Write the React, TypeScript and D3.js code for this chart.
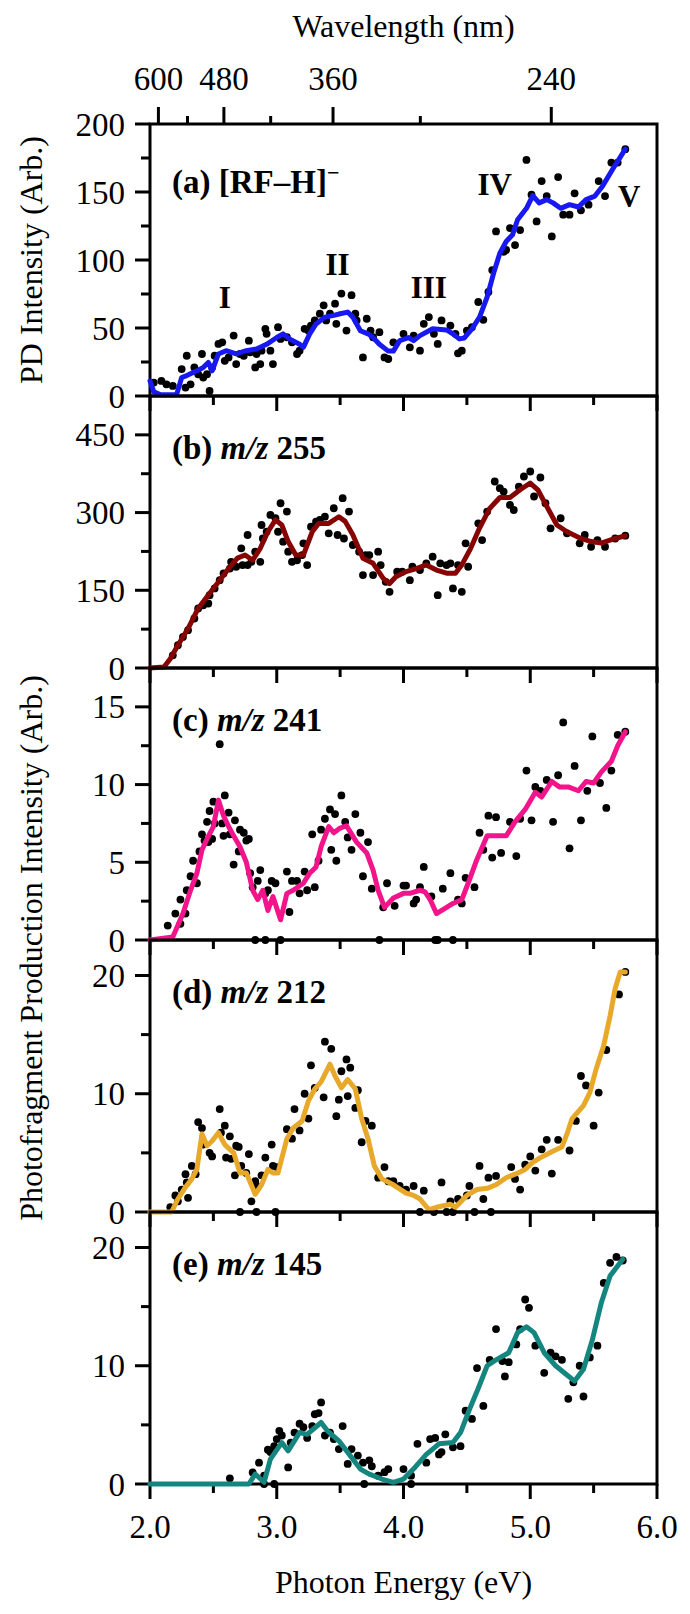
import * as d3 from "d3"

// photon energy axis (eV) and the wavelength axis on top (nm)
const energyMajor = [2, 3, 4, 5, 6]
const energyMinor = [2.5, 3.5, 4.5, 5.5]
const wavelengthMajor = [600, 480, 360, 240]
const wavelengthMinor = [540, 420, 300]

type Pt = [number, number]

// (a) [RF-H]- total photodepletion
const lineA: Pt[] = [
  [2.0, 11], [2.03, 3], [2.08, 1], [2.21, 1], [2.25, 13.6], [2.29, 15], [2.37, 18.5], [2.42, 21],
  [2.46, 24.7], [2.49, 18.5], [2.54, 30.9], [2.6, 33.3], [2.68, 30.9], [2.76, 33.3], [2.84, 34.6],
  [2.92, 38], [3.0, 43], [3.05, 45.7], [3.1, 42], [3.18, 38], [3.21, 35.8], [3.26, 45.7], [3.31, 53],
  [3.38, 58], [3.45, 59.3], [3.5, 60.5], [3.56, 61.7], [3.6, 58], [3.66, 48], [3.72, 45.7], [3.76, 43],
  [3.81, 38], [3.88, 33], [3.92, 33], [3.97, 40.7], [4.04, 43], [4.08, 40.7], [4.13, 44.4], [4.23, 49.4],
  [4.34, 48.6], [4.39, 45.7], [4.44, 42], [4.48, 42.7], [4.54, 49.4], [4.6, 58], [4.66, 72.8], [4.71, 90],
  [4.76, 105], [4.81, 113.6], [4.86, 118.5], [4.9, 129.6], [4.97, 138], [5.02, 147.4], [5.07, 142],
  [5.13, 144.4], [5.18, 142], [5.24, 138], [5.31, 140.7], [5.38, 139], [5.44, 144.4], [5.51, 147],
  [5.57, 154.3], [5.65, 166.7], [5.75, 181.5],
]
const dotsA: Pt[] = [
  [2.03, 9.9], [2.09, 11.1], [2.13, 8.6], [2.18, 7.4], [2.25, 19.8], [2.28, 6.2], [2.29, 29.6], [2.32, 8.6],
  [2.35, 21], [2.38, 16], [2.41, 30.9], [2.42, 13.6], [2.45, 16], [2.47, 3.7], [2.49, 21], [2.51, 29.6],
  [2.54, 38.3], [2.57, 39.5], [2.59, 25.9], [2.62, 28.4], [2.66, 44.4], [2.68, 23.5], [2.71, 30.9],
  [2.74, 29.6], [2.78, 40.7], [2.79, 32.1], [2.83, 21], [2.84, 30.9], [2.87, 23.5], [2.88, 33.3],
  [2.91, 49.4], [2.92, 45.7], [2.95, 33.3], [2.97, 23.5], [3.01, 50.6], [3.03, 42], [3.08, 43.2],
  [3.12, 39.5], [3.16, 30.9], [3.18, 33.3], [3.22, 49.4], [3.25, 48.1], [3.27, 51.8], [3.3, 55.6],
  [3.34, 60.5], [3.37, 66.7], [3.39, 55.6], [3.42, 60.5], [3.46, 67.9], [3.47, 53.1], [3.51, 75.3],
  [3.55, 48.1], [3.59, 74.1], [3.62, 60.5], [3.63, 55.6], [3.68, 28.4], [3.71, 56.8], [3.74, 48.1],
  [3.76, 43.2], [3.81, 46.9], [3.85, 28.4], [3.88, 27.2], [3.92, 39.5], [4.0, 45.7], [4.05, 35.8],
  [4.08, 44.4], [4.13, 33.3], [4.16, 53.1], [4.2, 58], [4.24, 45.7], [4.27, 38.3], [4.3, 55.6],
  [4.37, 51.8], [4.41, 45.7], [4.43, 31.4], [4.46, 33.3], [4.5, 48.1], [4.54, 50.6], [4.59, 69.1],
  [4.63, 56], [4.67, 76.5], [4.7, 92.6], [4.73, 121], [4.79, 106], [4.81, 107.4], [4.84, 123.5],
  [4.88, 111], [4.92, 122], [4.97, 173.6], [5.01, 148], [5.05, 128.4], [5.09, 158], [5.13, 147],
  [5.17, 117.3], [5.22, 161], [5.26, 133.3], [5.31, 133.3], [5.35, 149], [5.4, 136.5], [5.46, 140.7],
  [5.54, 158], [5.59, 147], [5.64, 171.6], [5.69, 171.6], [5.75, 181.5],
]
const bandsA = [
  {label: "I", e: 2.59, v: 65},
  {label: "II", e: 3.48, v: 89},
  {label: "III", e: 4.2, v: 72},
  {label: "IV", e: 4.72, v: 148},
  {label: "V", e: 5.78, v: 139},
]

// (b) m/z 255
const lineB: Pt[] = [
  [2.0, 0], [2.11, 2], [2.16, 18], [2.22, 44], [2.3, 76], [2.38, 115], [2.46, 141], [2.54, 166],
  [2.62, 192], [2.69, 212], [2.75, 218], [2.81, 208], [2.87, 231], [2.93, 263], [2.99, 286], [3.04, 276],
  [3.09, 244], [3.15, 218], [3.21, 218], [3.28, 263], [3.33, 279], [3.41, 279], [3.49, 292], [3.54, 283],
  [3.6, 257], [3.68, 212], [3.76, 202], [3.84, 173], [3.89, 163], [3.94, 176], [4.02, 186], [4.1, 192],
  [4.18, 199], [4.26, 189], [4.34, 183], [4.41, 183], [4.46, 199], [4.53, 231], [4.6, 270], [4.68, 308],
  [4.76, 329], [4.84, 329], [4.92, 344], [5.0, 357], [5.06, 344], [5.11, 321], [5.21, 276], [5.29, 263],
  [5.4, 250], [5.48, 244], [5.56, 241], [5.67, 250], [5.75, 255],
]
const dotsB: Pt[] = [
  [2.18, 24.5], [2.22, 43.9], [2.26, 60], [2.3, 73], [2.35, 95.5], [2.38, 115], [2.42, 121], [2.46, 124.5],
  [2.47, 140.6], [2.51, 153.5], [2.55, 169.6], [2.58, 182.5], [2.63, 192], [2.64, 205], [2.68, 195.4],
  [2.72, 231], [2.73, 198.7], [2.77, 198.7], [2.77, 256.7], [2.8, 205], [2.83, 224.5], [2.87, 205],
  [2.88, 276], [2.89, 250], [2.92, 263], [2.95, 295.4], [2.99, 289], [3.01, 263], [3.03, 318],
  [3.05, 243.8], [3.08, 302], [3.09, 224.5], [3.12, 205], [3.16, 208], [3.2, 218], [3.21, 240.6],
  [3.24, 198.7], [3.27, 272.8], [3.31, 282.5], [3.34, 285.7], [3.38, 292], [3.41, 260], [3.45, 308.3],
  [3.48, 256.7], [3.52, 327.7], [3.53, 250], [3.57, 302], [3.6, 237.4], [3.65, 224.5], [3.68, 179.3],
  [3.7, 218], [3.73, 218], [3.76, 179.3], [3.8, 224.5], [3.82, 198.7], [3.86, 166.4], [3.89, 147],
  [3.95, 185.8], [3.99, 185.8], [4.05, 169.6], [4.07, 195.4], [4.13, 189], [4.18, 202], [4.23, 214.8],
  [4.27, 140.6], [4.29, 202], [4.34, 198.7], [4.37, 202], [4.39, 153.5], [4.43, 198.7], [4.46, 147],
  [4.49, 240.6], [4.51, 195.4], [4.59, 279.3], [4.62, 247], [4.66, 302], [4.72, 360], [4.76, 347],
  [4.79, 340.6], [4.84, 314.8], [4.87, 305], [4.91, 350], [4.95, 369.6], [5.0, 379.3], [5.03, 331],
  [5.08, 367.7], [5.12, 318], [5.16, 269.6], [5.24, 289], [5.29, 260], [5.39, 240.6], [5.43, 256.7],
  [5.48, 234], [5.53, 247], [5.59, 234], [5.67, 250], [5.75, 255.4],
]

// (c) m/z 241
const lineC: Pt[] = [
  [2.0, 0], [2.18, 0.2], [2.26, 1.7], [2.32, 3.2], [2.37, 4.3], [2.41, 5.8], [2.45, 6.5], [2.5, 7.3],
  [2.54, 9.0], [2.58, 8.0], [2.62, 7.3], [2.66, 6.7], [2.71, 6.0], [2.76, 5.0], [2.81, 3.2], [2.85, 2.6],
  [2.89, 3.2], [2.93, 1.9], [2.97, 2.8], [3.03, 1.3], [3.08, 3.0], [3.13, 3.2], [3.21, 3.65], [3.26, 4.3],
  [3.31, 4.7], [3.35, 6.0], [3.41, 7.3], [3.45, 6.9], [3.5, 7.2], [3.55, 7.35], [3.63, 6.3], [3.71, 5.6],
  [3.76, 4.5], [3.8, 3.2], [3.85, 2.1], [3.92, 2.7], [4.0, 3.0], [4.05, 3.0], [4.13, 3.2], [4.17, 3.1],
  [4.21, 2.6], [4.26, 1.7], [4.34, 2.1], [4.39, 2.35], [4.46, 2.6], [4.51, 3.65], [4.58, 5.2], [4.66, 6.7],
  [4.73, 6.7], [4.81, 6.7], [4.88, 7.6], [4.96, 8.4], [5.04, 9.5], [5.09, 9.2], [5.17, 10.2], [5.23, 9.85],
  [5.3, 9.85], [5.38, 9.6], [5.44, 10.2], [5.5, 10.1], [5.56, 10.8], [5.64, 11.5], [5.69, 12.5], [5.75, 13.4],
]
const dotsC: Pt[] = [
  [2.14, 0.93], [2.2, 1.7], [2.24, 1.04], [2.24, 2.6], [2.28, 1.7], [2.29, 3.2], [2.32, 4.1], [2.34, 5.1],
  [2.37, 3.65], [2.39, 5.7], [2.41, 6.8], [2.43, 6.4], [2.45, 7.6], [2.46, 6.3], [2.47, 8.3], [2.49, 6.5],
  [2.5, 8.9], [2.51, 7.5], [2.55, 12.6], [2.57, 7.5], [2.58, 6.7], [2.59, 9.3], [2.62, 8.2], [2.63, 6.8],
  [2.66, 4.85], [2.67, 7.7], [2.7, 5.7], [2.71, 7.1], [2.74, 6.9], [2.76, 6.4], [2.78, 6.5], [2.79, 4.3],
  [2.81, 3.4], [2.83, 0], [2.85, 3.8], [2.87, 4.5], [2.91, 3.0], [2.91, 0], [2.93, 3.2], [2.96, 3.8],
  [2.99, 3.65], [3.03, 0], [3.08, 4.4], [3.1, 1.8], [3.12, 3.8], [3.16, 3.8], [3.18, 3.0], [3.22, 4.4],
  [3.24, 3.2], [3.28, 6.8], [3.3, 3.4], [3.33, 5.1], [3.35, 7.1], [3.38, 7.8], [3.42, 8.4], [3.43, 5.8],
  [3.46, 8.1], [3.47, 5.1], [3.51, 9.3], [3.54, 7.6], [3.56, 6.6], [3.59, 5.8], [3.62, 8.1], [3.66, 6.9],
  [3.68, 4.1], [3.72, 6.3], [3.75, 3.3], [3.81, 0], [3.84, 2.1], [3.87, 3.65], [3.93, 2.2], [4.0, 3.5],
  [4.02, 3.5], [4.08, 2.35], [4.1, 2.6], [4.13, 3.4], [4.16, 4.7], [4.22, 2.8], [4.25, 0], [4.27, 0],
  [4.31, 3.3], [4.37, 4.3], [4.39, 0], [4.43, 2.6], [4.46, 2.35], [4.49, 4.0], [4.56, 3.4], [4.6, 6.9],
  [4.63, 5.8], [4.67, 8.0], [4.7, 5.3], [4.73, 7.9], [4.77, 5.6], [4.84, 7.6], [4.89, 5.4], [4.92, 7.8],
  [4.97, 10.9], [5.01, 7.7], [5.04, 9.85], [5.08, 9.6], [5.13, 10.3], [5.18, 7.6], [5.22, 10.6],
  [5.26, 14.0], [5.31, 5.9], [5.35, 11.2], [5.4, 7.7], [5.45, 9.6], [5.49, 13.1], [5.55, 10.1],
  [5.6, 8.5], [5.64, 10.9], [5.69, 13.2], [5.75, 13.4],
]

// (d) m/z 212
const lineD: Pt[] = [
  [2.0, 0], [2.17, 0], [2.22, 1.1], [2.28, 2.1], [2.33, 2.8], [2.37, 3.6], [2.41, 6.6], [2.45, 5.6],
  [2.49, 6.0], [2.54, 6.7], [2.59, 5.7], [2.66, 5.0], [2.71, 3.3], [2.76, 3.3], [2.83, 1.5], [2.88, 2.3],
  [2.93, 3.6], [2.97, 3.3], [3.01, 3.3], [3.08, 6.2], [3.13, 7.1], [3.2, 7.7], [3.25, 9.4], [3.3, 10.4],
  [3.35, 11.0], [3.42, 12.5], [3.46, 11.5], [3.51, 10.5], [3.56, 11.2], [3.62, 10.4], [3.67, 7.9],
  [3.72, 6.2], [3.77, 3.9], [3.83, 2.8], [3.92, 2.3], [4.02, 1.6], [4.08, 1.4], [4.13, 1.1], [4.2, 0.2],
  [4.26, 0.4], [4.37, 0.65], [4.41, 0.4], [4.5, 1.4], [4.58, 1.9], [4.66, 2.0], [4.73, 2.3], [4.81, 2.9],
  [4.88, 3.2], [4.96, 3.6], [5.02, 4.2], [5.08, 4.6], [5.17, 5.1], [5.25, 5.5], [5.29, 6.6], [5.33, 7.9],
  [5.42, 9.0], [5.47, 10.1], [5.52, 12.1], [5.58, 14.1], [5.63, 16.6], [5.67, 18.9], [5.71, 20.3],
  [5.75, 20.3],
]
const dotsD: Pt[] = [
  [2.16, 0.4], [2.2, 1.4], [2.22, 0.9], [2.25, 1.9], [2.28, 3.2], [2.29, 2.5], [2.3, 1.2], [2.33, 3.9],
  [2.36, 3.2], [2.38, 7.6], [2.41, 7.1], [2.42, 5.7], [2.47, 5.0], [2.49, 4.7], [2.55, 8.7], [2.56, 6.7],
  [2.59, 7.3], [2.6, 4.6], [2.63, 6.4], [2.64, 4.5], [2.67, 3.1], [2.68, 5.6], [2.7, 5.5], [2.71, 0],
  [2.72, 3.9], [2.76, 3.3], [2.78, 4.9], [2.8, 0.9], [2.83, 2.6], [2.84, 2.2], [2.84, 0], [2.88, 3.1],
  [2.91, 4.6], [2.96, 5.7], [2.97, 3.9], [2.99, 0], [3.0, 3.8], [3.08, 7.0], [3.12, 6.2], [3.14, 8.7],
  [3.18, 6.9], [3.22, 10.0], [3.25, 7.9], [3.27, 12.4], [3.3, 10.5], [3.37, 9.7], [3.38, 14.4],
  [3.43, 13.8], [3.47, 8.1], [3.49, 9.5], [3.51, 11.9], [3.55, 12.9], [3.56, 9.8], [3.58, 12.2],
  [3.62, 8.8], [3.64, 10.3], [3.67, 5.9], [3.7, 7.7], [3.75, 7.3], [3.8, 2.9], [3.85, 3.8], [3.88, 2.6],
  [3.92, 2.6], [3.97, 2.2], [4.02, 1.9], [4.08, 2.2], [4.13, 0], [4.16, 1.8], [4.24, 0], [4.3, 2.5],
  [4.34, 0], [4.37, 0.9], [4.39, 0], [4.43, 1.1], [4.5, 1.4], [4.52, 2.2], [4.56, 0], [4.6, 3.9],
  [4.63, 1.1], [4.67, 2.9], [4.69, 0], [4.73, 3.05], [4.85, 3.8], [4.88, 2.8], [4.92, 1.9], [4.96, 4.0],
  [5.0, 4.7], [5.04, 3.5], [5.09, 5.3], [5.13, 6.1], [5.17, 3.25], [5.22, 6.1], [5.31, 5.2], [5.36, 7.7],
  [5.4, 11.5], [5.44, 10.7], [5.5, 7.3], [5.54, 10.1], [5.6, 13.7], [5.7, 18.4], [5.75, 20.3],
]

// (e) m/z 145
const lineE: Pt[] = [
  [2.0, 0], [2.78, 0], [2.83, 0.84], [2.9, 0.15], [2.95, 2.1], [3.04, 3.5], [3.09, 2.8], [3.18, 4.35],
  [3.24, 4.2], [3.35, 5.2], [3.4, 4.5], [3.49, 3.65], [3.59, 2.25], [3.66, 1.26], [3.73, 0.84],
  [3.83, 0.42], [3.92, 0.14], [4.0, 0.42], [4.09, 1.4], [4.18, 2.5], [4.28, 3.4], [4.39, 3.5],
  [4.45, 4.35], [4.52, 6.3], [4.59, 8.1], [4.66, 10.0], [4.73, 10.5], [4.83, 11.1], [4.9, 12.8],
  [4.97, 13.3], [5.03, 12.8], [5.11, 11.1], [5.2, 10.0], [5.28, 9.3], [5.35, 8.7], [5.42, 9.7],
  [5.49, 12.2], [5.56, 15.3], [5.63, 17.6], [5.73, 19.0],
]
const dotsE: Pt[] = [
  [2.63, 0.48], [2.81, 0.98], [2.86, 1.8], [2.9, 0.7], [2.9, 0], [2.93, 2.9], [2.95, 2.7], [2.98, 3.2],
  [2.98, 0], [3.0, 3.8], [3.02, 4.5], [3.04, 4.1], [3.09, 1.4], [3.11, 3.5], [3.14, 4.35], [3.18, 5.1],
  [3.21, 4.8], [3.24, 3.9], [3.28, 4.9], [3.3, 5.9], [3.33, 6.0], [3.35, 6.9], [3.38, 4.1], [3.42, 4.35],
  [3.45, 3.8], [3.49, 2.95], [3.52, 4.9], [3.56, 1.7], [3.59, 2.95], [3.64, 2.4], [3.68, 1.8], [3.69, 0],
  [3.73, 2.0], [3.75, 1.5], [3.8, 0.7], [3.85, 1.0], [3.88, 1.26], [4.0, 1.26], [4.06, 0.7], [4.06, 0],
  [4.11, 3.4], [4.18, 1.8], [4.21, 3.8], [4.25, 3.9], [4.28, 2.5], [4.3, 2.7], [4.33, 4.2], [4.39, 3.1],
  [4.45, 3.2], [4.49, 6.2], [4.54, 5.5], [4.58, 9.8], [4.63, 6.6], [4.68, 10.5], [4.73, 13.1],
  [4.78, 10.4], [4.8, 9.1], [4.83, 10.3], [4.89, 11.8], [4.92, 13.1], [4.96, 15.6], [4.99, 14.9],
  [5.04, 11.7], [5.11, 9.4], [5.16, 11.1], [5.2, 10.8], [5.25, 10.5], [5.3, 7.2], [5.34, 8.6], [5.39, 10.0],
  [5.42, 7.4], [5.47, 10.7], [5.53, 11.7], [5.58, 17.0], [5.63, 18.7], [5.68, 19.2], [5.73, 18.9],
]

const panels = [
  {id: "a", yMax: 200, major: [0, 50, 100, 150, 200], minor: [25, 75, 125, 175], color: "#1818f0", line: lineA, dots: dotsA},
  {id: "b", yMax: 525, major: [0, 150, 300, 450], minor: [75, 225, 375], color: "#860404", line: lineB, dots: dotsB},
  {id: "c", yMax: 17.5, major: [0, 5, 10, 15], minor: [2.5, 7.5, 12.5], color: "#f2148a", line: lineC, dots: dotsC},
  {id: "d", yMax: 23, major: [0, 10, 20], minor: [5, 15], color: "#e8a92a", line: lineD, dots: dotsD},
  {id: "e", yMax: 23, major: [0, 10, 20], minor: [5, 15], color: "#15867f", line: lineE, dots: dotsE},
]
const fragmentMz = {b: "255", c: "241", d: "212", e: "145"}

export default function App() {
  const width = 690
  const height = 1614
  const left = 150
  const right = 657
  const top = 124
  const panelH = 272
  const font = "'Liberation Serif', 'Times New Roman', serif"

  const x = d3.scaleLinear().domain([2, 6]).range([left, right])
  const nm = (w: number) => x(1239.84 / w)

  return (
    <svg
      width={width}
      height={height}
      style={{position: "absolute", left: 0, top: 0, background: "#fff"}}
      fontFamily={font}
    >
      {/* top wavelength axis */}
      <text x={(left + right) / 2} y={37} fontSize={32} textAnchor="middle">
        Wavelength (nm)
      </text>
      {wavelengthMajor.map((w) => (
        <g key={"wl" + w}>
          <line x1={nm(w)} x2={nm(w)} y1={top} y2={top - 17} stroke="#000" strokeWidth={3} />
          <text x={nm(w)} y={90} fontSize={33} textAnchor="middle">
            {w}
          </text>
        </g>
      ))}
      {wavelengthMinor.map((w) => (
        <line key={"wm" + w} x1={nm(w)} x2={nm(w)} y1={top} y2={top - 8} stroke="#000" strokeWidth={3} />
      ))}

      {panels.map((p, i) => {
        const y0 = top + i * panelH
        const y = d3.scaleLinear().domain([0, p.yMax]).range([y0 + panelH, y0])
        const path = d3
          .line<Pt>()
          .x((d) => x(d[0]))
          .y((d) => y(d[1]))(p.line)
        return (
          <g key={p.id}>
            <rect x={left} y={y0} width={right - left} height={panelH} fill="none" stroke="#000" strokeWidth={3} />
            {/* y ticks */}
            {p.major.map((v) => (
              <g key={"M" + v}>
                <line x1={left - 15} x2={left} y1={y(v)} y2={y(v)} stroke="#000" strokeWidth={3} />
                <text x={125} y={y(v)} dy="0.35em" fontSize={33} textAnchor="end">
                  {v}
                </text>
              </g>
            ))}
            {p.minor.map((v) => (
              <line key={"m" + v} x1={left - 9} x2={left} y1={y(v)} y2={y(v)} stroke="#000" strokeWidth={3} />
            ))}
            {/* x ticks, pointing down out of each panel */}
            {energyMajor.map((e) => (
              <line key={"xM" + e} x1={x(e)} x2={x(e)} y1={y0 + panelH} y2={y0 + panelH + 15} stroke="#000" strokeWidth={3} />
            ))}
            {energyMinor.map((e) => (
              <line key={"xm" + e} x1={x(e)} x2={x(e)} y1={y0 + panelH} y2={y0 + panelH + 9} stroke="#000" strokeWidth={3} />
            ))}
            {p.dots.map((d, j) => (
              <circle key={j} cx={x(d[0])} cy={y(d[1])} r={3.9} fill="#000" />
            ))}
            <path d={path ?? ""} fill="none" stroke={p.color} strokeWidth={5} strokeLinejoin="round" strokeLinecap="round" />
            {/* panel label */}
            {p.id === "a" ? (
              <text x={172} y={y0 + 69} fontSize={33} fontWeight="bold">
                (a) [RF–H]
                <tspan dy={-13} fontSize={22}>
                  −
                </tspan>
              </text>
            ) : (
              <text x={172} y={y0 + 63} fontSize={33} fontWeight="bold">
                ({p.id}){" "}
                <tspan fontStyle="italic">m/z</tspan> {fragmentMz[p.id]}
              </text>
            )}
            {p.id === "a" &&
              bandsA.map((b) => (
                <text key={b.label} x={x(b.e)} y={y(b.v)} fontSize={31} fontWeight="bold" textAnchor="middle">
                  {b.label}
                </text>
              ))}
          </g>
        )
      })}

      {/* bottom energy axis labels */}
      {energyMajor.map((e) => (
        <text key={"xl" + e} x={x(e)} y={1538} fontSize={33} textAnchor="middle">
          {e.toFixed(1)}
        </text>
      ))}
      <text x={(left + right) / 2} y={1593} fontSize={32} textAnchor="middle">
        Photon Energy (eV)
      </text>

      {/* y axis titles */}
      <text transform={`translate(42, ${top + panelH / 2}) rotate(-90)`} fontSize={32} textAnchor="middle">
        PD Intensity (Arb.)
      </text>
      <text transform={`translate(42, 948) rotate(-90)`} fontSize={32} textAnchor="middle">
        Photofragment Production Intensity (Arb.)
      </text>
    </svg>
  )
}
